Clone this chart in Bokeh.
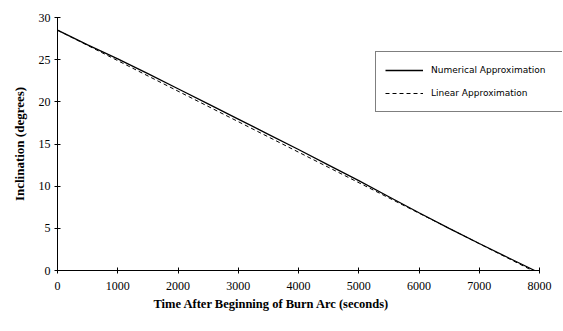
from bokeh.plotting import figure
from bokeh.models import Range1d, Legend, LegendItem, Title
from bokeh.embed import file_html
from bokeh.resources import INLINE

# Data
num_time = [0, 500, 1000, 1500, 2000, 2500, 3000, 3500, 4000, 4500, 5000, 5500, 6000, 6500, 7000, 7500, 7920]
num_incl = [28.5, 26.75, 25.1, 23.35, 21.55, 19.75, 17.95, 16.15, 14.35, 12.5, 10.65, 8.75, 6.85, 5.0, 3.2, 1.45, 0.0]
lin_time = [0, 7880]
lin_incl = [28.5, 0.0]

x_ticks = [0, 1000, 2000, 3000, 4000, 5000, 6000, 7000, 8000]
y_ticks = [0, 5, 10, 15, 20, 25, 30]

p = figure(width=563, height=331, output_backend="svg", toolbar_location=None,
           x_range=Range1d(0, 8000 * 505 / 482), y_range=Range1d(0, 30),
           min_border_left=57, min_border_right=1, min_border_top=17, min_border_bottom=61)
p.outline_line_color = None
p.grid.grid_line_color = None
p.background_fill_color = "white"
p.border_fill_color = "white"

r1 = p.line(num_time, num_incl, line_color="black", line_width=1.3)
r2 = p.line(lin_time, lin_incl, line_color="black", line_width=1, line_dash="4 3")

serif = "Liberation Serif"
p.xaxis.ticker = x_ticks
p.yaxis.ticker = y_ticks
p.xaxis.bounds = (0, 8000)
for ax in (p.xaxis[0], p.yaxis[0]):
    ax.axis_line_color = "black"
    ax.major_tick_line_color = "black"
    ax.major_tick_in = 3
    ax.major_tick_out = 3
    ax.minor_tick_line_color = None
    ax.major_label_text_font = serif
    ax.major_label_text_font_size = "12px"
    ax.major_label_text_color = "black"
    ax.axis_label_text_font = serif
    ax.axis_label_text_font_style = "bold"
    ax.axis_label_text_color = "black"

p.xaxis.major_label_standoff = 8
p.yaxis.axis_label = "Inclination (degrees)"
p.yaxis.axis_label_text_font_size = "13px"
p.yaxis.major_label_standoff = 4
p.yaxis.axis_label_standoff = 9

xt = Title(text="Time After Beginning of Burn Arc (seconds)", align="left", offset=96,
           text_font=serif, text_font_style="bold", text_font_size="12.5px",
           text_color="black", standoff=5)
p.add_layout(xt, "below")

legend = Legend(items=[LegendItem(label="Numerical Approximation", renderers=[r1]),
                       LegendItem(label="Linear Approximation", renderers=[r2])],
                location=(318, 158))
legend.label_text_font = "DejaVu Sans"
legend.label_text_font_size = "9px"
legend.label_text_color = "black"
legend.border_line_color = "black"
legend.border_line_width = 1
legend.padding = 9
legend.spacing = 5
legend.glyph_width = 38
legend.glyph_height = 18
legend.label_height = 18
legend.label_width = 124
legend.label_standoff = 8
legend.margin = 0
legend.background_fill_alpha = 1
p.add_layout(legend, "center")

open("out.html", "w").write(file_html(p, INLINE))
